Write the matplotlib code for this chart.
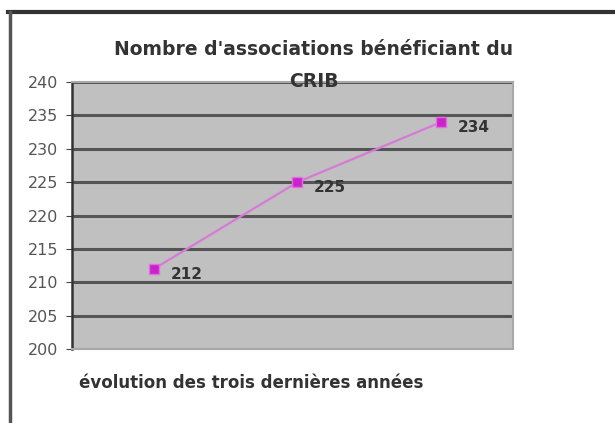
import matplotlib.pyplot as plt
from matplotlib.lines import Line2D

# nombre d'associations sur les trois dernières années
annees = ["année 1", "année 2", "année 3"]
nb_assoc = [212, 225, 234]
y_ticks = [200, 205, 210, 215, 220, 225, 230, 235, 240]

fig = plt.figure(figsize=(6.15, 4.23), dpi=100)
fig.patch.set_facecolor("white")

ax = fig.add_axes([0.117, 0.175, 0.717, 0.631])
ax.set_facecolor("#c0c0c0")

x = range(len(annees))
ax.plot(x, nb_assoc, color="#d77ad7", lw=1.6, zorder=3)
ax.plot(x, nb_assoc, ls="none", marker="s", ms=7, color="#cc22cc",
        markeredgecolor="#e070e0", zorder=4)
for xi, v in zip(x, nb_assoc):
    ax.annotate(str(v), (xi, v), xytext=(12, -4), textcoords="offset points",
                fontsize=11, color="#333333", fontweight="bold", va="center")

ax.set_xlim(-0.57, len(annees) - 0.5)
ax.set_ylim(200, 240)
ax.set_yticks(y_ticks)
ax.set_xticks([])
ax.tick_params(axis="y", labelsize=11.5, labelcolor="#555555", length=4,
               color="#444444", pad=6)
ax.yaxis.grid(True, color="#555555", lw=2.2)
ax.set_axisbelow(True)

ax.spines["left"].set_color("#333333")
ax.spines["left"].set_linewidth(1.8)
for s in ["top", "right", "bottom"]:
    ax.spines[s].set_color("#a8a8a8")
    ax.spines[s].set_linewidth(1.5)

fig.text(0.51, 0.846, "Nombre d'associations bénéficiant du\nCRIB",
         ha="center", va="center", fontsize=13.5, fontweight="bold",
         color="#333333", linespacing=1.85)
fig.text(0.408, 0.095, "évolution des trois dernières années",
         ha="center", va="center", fontsize=12, fontweight="bold",
         color="#333333")

# cadre sombre en haut et à gauche
fig.add_artist(Line2D([0.013, 1.0], [0.972, 0.972], color="#333333", lw=3,
                      transform=fig.transFigure))
fig.add_artist(Line2D([0.016, 0.016], [0.0, 0.972], color="#555555", lw=2.5,
                      transform=fig.transFigure))

fig.savefig("out.png", dpi=100)
